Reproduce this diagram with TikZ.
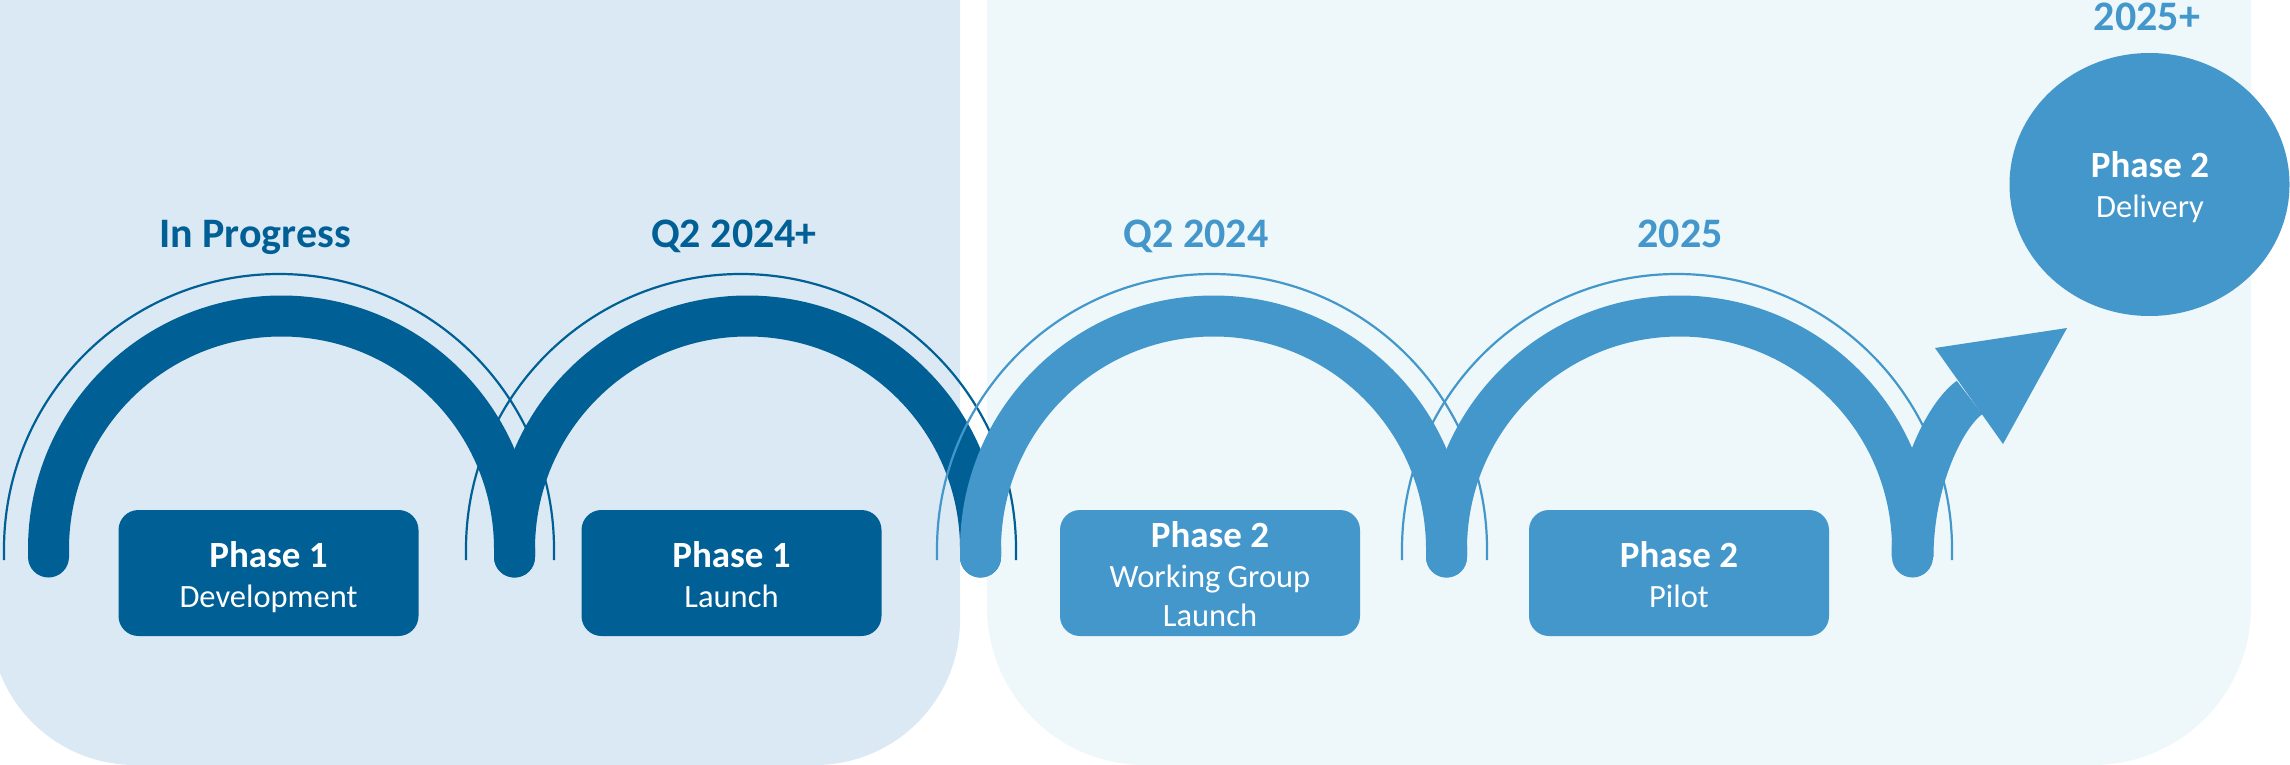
\documentclass[tikz,border=0pt]{standalone}
\usepackage{fontspec}
\setmainfont{Carlito}
\usetikzlibrary{shapes.geometric}
\definecolor{dark}{RGB}{0,96,150}
\definecolor{light}{RGB}{67,151,203}
\definecolor{panelL}{RGB}{218,233,244}
\definecolor{panelR}{RGB}{238,247,250}
\begin{document}
\begin{tikzpicture}[x=1pt,y=-1pt,
  band/.style={draw=#1, line width=41pt, line cap=round},
  hair/.style={draw=#1, line width=2.2pt},
  box/.style={fill=#1, rounded corners=20pt, minimum width=300pt, minimum height=126pt, inner sep=0pt, draw=none},
  boxhead/.style={text=white, anchor=base, inner sep=0pt, font=\fontsize{37}{41}\selectfont\bfseries},
  boxbody/.style={text=white, anchor=base, inner sep=0pt, font=\fontsize{32.5}{40}\selectfont},
  period/.style={text=#1, anchor=base, inner sep=0pt, font=\fontsize{42}{50}\selectfont\bfseries}
]
\useasboundingbox (0,0) rectangle (2290,765);
\clip (0,0) rectangle (2290,765);
% background panels
\fill[panelL, rounded corners=145pt] (-10,-300) -- (-10,765) -- (960,765) -- (960,-300) -- cycle;
\fill[panelR, rounded corners=158pt] (987,-300) -- (987,765) -- (2251,765) -- (2251,-300) -- cycle;

% thin dark arcs
\draw[hair=dark] (4,560) -- (4,549) arc[start angle=180, end angle=360, radius=275] -- (554,560);
\draw[hair=dark] (466,560) -- (466,549) arc[start angle=180, end angle=360, radius=275] -- (1016,560);
% thick dark arcs
\coordinate (l0) at (48.5,557);
\coordinate (l1) at (514.5,557);
\coordinate (l2) at (980.5,557);
\coordinate (l3) at (1446.5,557);
\coordinate (l4) at (1912.5,557);
\draw[band=dark] (l0) -- (48.5,549) arc[start angle=180, end angle=360, radius=233] -- (l1);
\draw[band=dark] (l1) -- (514.5,549) arc[start angle=180, end angle=360, radius=233] -- (l2);
% thin light arcs
\draw[hair=light] (937,560) -- (937,549) arc[start angle=180, end angle=360, radius=275] -- (1487,560);
\draw[hair=light] (1402,560) -- (1402,549) arc[start angle=180, end angle=360, radius=275] -- (1952,560);
% thick light arcs
\draw[band=light] (l2) -- (980.5,549) arc[start angle=180, end angle=360, radius=233] -- (l3);
\draw[band=light] (l3) -- (1446.5,549) arc[start angle=180, end angle=360, radius=233] -- (l4);
% arrow
\coordinate (ah) at (1969.5,397.5);
\draw[draw=light, line width=42pt] (l4) .. controls (1912.5,480) and (1945,415) .. (ah);
\fill[light] (1935,348) -- (2067,328) -- (2003,444) -- cycle;

% boxes
\node[box=dark] (b1) at (268.5,573) {};
\node[box=dark] (b2) at (731.5,573) {};
\node[box=light] (b3) at (1210,573) {};
\node[box=light] (b4) at (1679,573) {};
\node[boxhead] (b1h) at (268.5,567) {Phase 1};
\node[boxbody] (b1b) at (268.5,607) {Development};
\node[boxhead] (b2h) at (731.5,567) {Phase 1};
\node[boxbody] (b2b) at (731.5,607) {Launch};
\node[boxhead] (b3h) at (1210,547) {Phase 2};
\node[boxbody] (b3b) at (1210,587) {Working Group};
\node[boxbody] (b3c) at (1210,626) {Launch};
\node[boxhead] (b4h) at (1679,567) {Phase 2};
\node[boxbody] (b4b) at (1679,607) {Pilot};

% delivery ellipse
\node[ellipse, fill=light, minimum width=280pt, minimum height=263pt, inner sep=0pt] (del) at (2149.5,184.5) {};
\node[boxhead] (delh) at (2150,177) {Phase 2};
\node[boxbody] (delb) at (2150,217) {Delivery};

% period labels
\node[period=dark] (p1) at (255,247) {In Progress};
\node[period=dark] (p2) at (734,247) {Q2 2024+};
\node[period=light] (p3) at (1196,247) {Q2 2024};
\node[period=light] (p4) at (1680,247) {2025};
\node[period=light] (p5) at (2147,31) {2025+};
\end{tikzpicture}
\end{document}
